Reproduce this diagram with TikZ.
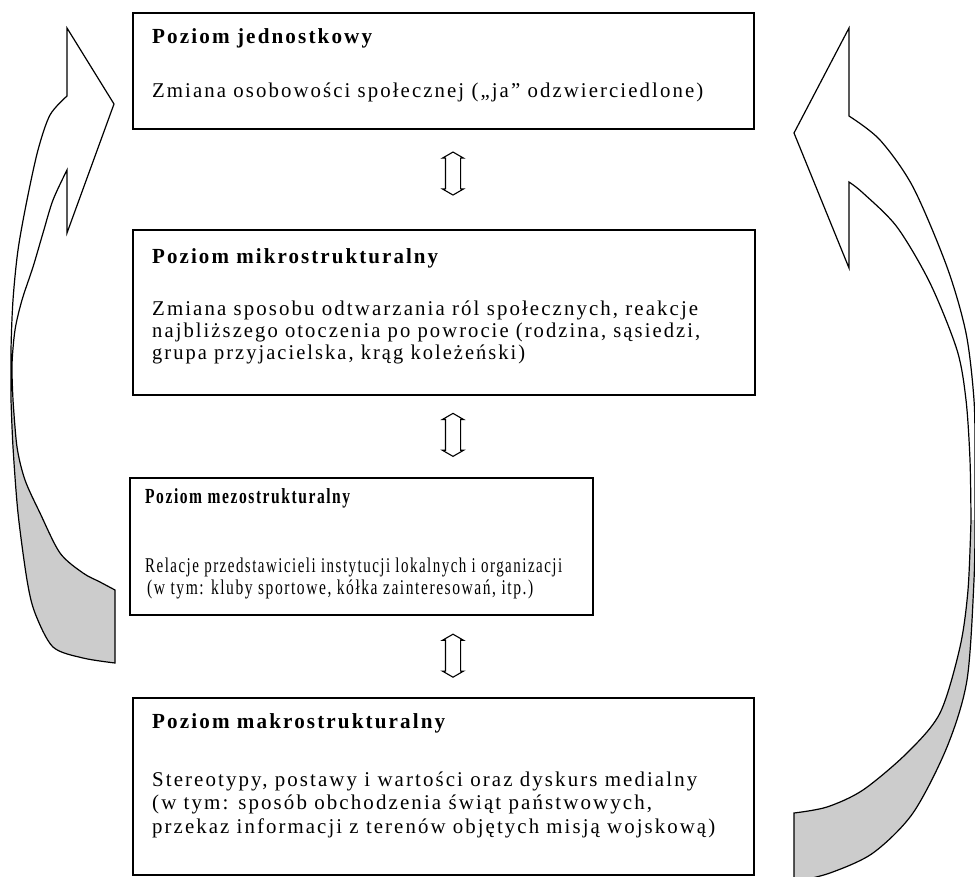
\documentclass[tikz,border=0pt]{standalone}
\usepackage{fontspec}
\usepackage{graphicx}
\setmainfont{Liberation Serif}[LetterSpace=10]
\usetikzlibrary{shapes.arrows,calc}
\newcommand{\fitw}[2]{\resizebox{#1pt}{\height}{#2}}
\begin{document}
\begin{tikzpicture}[x=1pt,y=-1pt,
  box/.style={draw, line width=1.5pt, rectangle, inner sep=0pt},
  hd/.style={anchor=base west, inner sep=0pt, font=\fontsize{21.5}{22}\selectfont\bfseries},
  tx/.style={anchor=base west, inner sep=0pt, font=\fontsize{21}{22}\selectfont},
  dbl/.style={double arrow, draw, line width=1.1pt, rotate=90, minimum height=43pt,
    inner xsep=0pt, inner ysep=7pt, double arrow head extend=3pt, double arrow tip angle=120},
  band/.style={draw, line width=1.2pt, line join=miter},
  shadefill/.style={fill=black!20}]
\useasboundingbox (0,0) rectangle (975,876);
\clip (0,0) rectangle (975,876);

% left curved arrow
\fill[shadefill] plot[smooth] coordinates {(13,400) (17,447) (25,480) (40,513) (60,553) (83,573) (100,582) (115,590)}
  -- (115,663) -- plot[smooth] coordinates {(115,663) (83,658) (53,647) (35,613) (27,580) (18,513) (13,447) (11,400)} -- cycle;
\draw[band] (67,28) -- (114,104) -- (67,233) -- (67,170)
  -- plot[smooth] coordinates {(67,170) (53,200) (43,233) (33,267) (22,300) (15,330) (12,365) (13,400)}
  -- plot[smooth] coordinates {(13,400) (17,447) (25,480) (40,513) (60,553) (83,573) (100,582) (115,590)}
  -- (115,663)
  -- plot[smooth] coordinates {(115,663) (83,658) (53,647) (35,613) (27,580) (18,513) (13,447) (11,400)}
  -- plot[smooth] coordinates {(11,400) (11,350) (13,300) (18,250) (27,200) (38,150) (50,115) (67,96)}
  -- cycle;

% right curved arrow
\fill[shadefill] plot[smooth] coordinates {(971,520) (968,590) (960,647) (940,713) (907,753) (863,790) (827,807) (794,813)}
  -- (794,882) -- plot[smooth] coordinates {(794,882) (830,873) (873,853) (913,813) (947,747) (967,680) (974,580) (975,520)} -- cycle;
\draw[band] (849,28) -- (794,133) -- (849,268) -- (849,182)
  -- plot[smooth] coordinates {(849,182) (863,193) (897,227) (930,283) (957,350) (966,400) (970,460) (971,520)}
  -- plot[smooth] coordinates {(971,520) (968,590) (960,647) (940,713) (907,753) (863,790) (827,807) (794,813)}
  -- (794,882)
  -- plot[smooth] coordinates {(794,882) (830,873) (873,853) (913,813) (947,747) (967,680) (974,580) (975,520)}
  -- plot[smooth] coordinates {(975,520) (975,460) (974,400) (966,333) (947,267) (913,187) (880,140) (849,116)}
  -- cycle;

% boxes
\node[box, minimum width=621pt, minimum height=116pt] (b1) at (443.5,71) {};
\node[box, minimum width=622pt, minimum height=165pt] (b2) at (444,312.5) {};
\node[box, minimum width=463pt, minimum height=137pt] (b3) at (361.5,546.5) {};
\node[box, minimum width=621pt, minimum height=177pt] (b4) at (443.5,786.5) {};

% texts
\node[hd] (h1) at (152,43) {\fitw{220}{Poziom jednostkowy}};
\node[tx] (t1) at (152,97) {\fitw{551}{Zmiana osobowości społecznej („ja” odzwierciedlone)}};

\node[hd] (h2) at (152,263) {\fitw{286}{Poziom mikrostrukturalny}};
\node[tx] (t2a) at (152,315) {\fitw{546}{Zmiana sposobu odtwarzania ról społecznych, reakcje}};
\node[tx] (t2b) at (152,337) {\fitw{548}{najbliższego otoczenia po powrocie (rodzina, sąsiedzi,}};
\node[tx] (t2c) at (152,359) {\fitw{373}{grupa przyjacielska, krąg koleżeński)}};

\node[hd] (h3) at (145,503) {\fitw{205}{Poziom mezostrukturalny}};
\node[tx] (t3a) at (145,572) {\fitw{417}{Relacje przedstawicieli instytucji lokalnych i organizacji}};
\node[tx] (t3b) at (147,594) {\fitw{386}{(w tym: kluby sportowe, kółka zainteresowań, itp.)}};

\node[hd] (h4) at (152,728) {\fitw{293}{Poziom makrostrukturalny}};
\node[tx] (t4a) at (152,786) {\fitw{545}{Stereotypy, postawy i wartości oraz dyskurs medialny}};
\node[tx] (t4b) at (152,809.5) {\fitw{500}{(w tym: sposób obchodzenia świąt państwowych,}};
\node[tx] (t4c) at (152,833) {\fitw{563}{przekaz informacji z terenów objętych misją wojskową)}};

% double arrows between levels
\node[dbl] (d12) at ($(b1.south -| 453,0)!0.44!(b2.north -| 453,0)$) {};
\node[dbl] (d23) at ($(b2.south -| 453,0)!0.48!(b3.north -| 453,0)$) {};
\node[dbl] (d34) at ($(b3.south -| 453,0)!0.49!(b4.north -| 453,0)$) {};
\end{tikzpicture}
\end{document}
